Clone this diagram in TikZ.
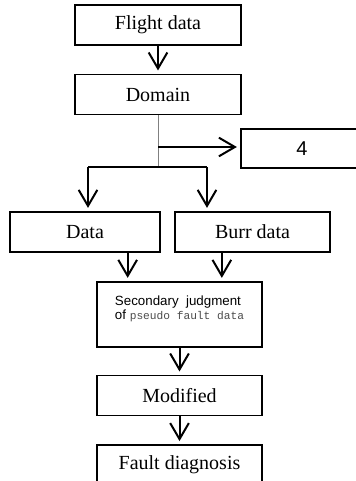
\documentclass[tikz,border=0pt]{standalone}
\usepackage{fontspec}
\setmainfont{Liberation Serif}
\setsansfont{Liberation Sans}
\setmonofont{Liberation Mono}
\usetikzlibrary{arrows.meta,positioning}

\begin{document}
\begin{tikzpicture}[
  x=0.75pt, y=-0.75pt,
  font=\fontsize{15}{18}\selectfont,
  box/.style={draw, line width=1.2pt, align=center, fill=white,
              minimum width=124.5pt, minimum height=30pt, inner sep=2pt},
  lab/.style={font=\sffamily\fontsize{10}{10.5}\selectfont, align=left, inner sep=0pt},
  arr/.style={-{Straight Barb[length=12pt,width=14pt]}, line width=1.5pt, shorten >=2.5pt},
  stem/.style={gray, line width=0.7pt}
]
\useasboundingbox (0,0) rectangle (356,481);
\clip (0,0) rectangle (356,481);

% ---------- top chain ----------
\node[box] (fd) at (158,25) {Flight data};
\node[box, below=21pt of fd] (dom) {Domain};
\node[box, font=\sffamily\fontsize{15}{18}\selectfont,
      minimum width=91.5pt, minimum height=29.25pt] (four) at (302,148.5) {4};

\draw[arr] (fd) -- (dom);

% ---------- split ----------
\coordinate (fork) at (158,147);
\coordinate (split) at (158,167);
\coordinate (lbr) at (88,167);
\coordinate (rbr) at (207,167);

\draw[stem] (dom.south) -- (split);
\draw[arr] (fork) -- (fork -| four.west);
\draw[line width=1.5pt] (lbr) -- (rbr);

\node[box, minimum width=112.5pt] (data) at (85,232) {Data};
\node[box, minimum width=116.25pt] (burr) at (252.5,232) {Burr data};

\draw[arr] (lbr) -- (lbr |- data.north);
\draw[arr] (rbr) -- (rbr |- burr.north);

% ---------- lower chain ----------
\node[box, minimum width=123.75pt, minimum height=48.75pt] (sec) at (179.5,314.5) {};
\node[lab] (sectxt) at ([yshift=4.5pt]sec.center)
  {Secondary\ \ judgment\\
   of {\ttfamily\color{black!70}\fontsize{8.4}{10.5}\selectfont pseudo fault data}};
\node[box, minimum width=123.75pt, below=20.25pt of sec] (mod) {Modified};
\node[box, minimum width=123.75pt, below=21pt of mod] (fault) {Fault diagnosis};

\draw[arr] ([xshift=32pt]data.south) -- ([xshift=32pt]data.south |- sec.north);
\draw[arr] ([xshift=-23pt]burr.south) -- ([xshift=-23pt]burr.south |- sec.north);
\draw[arr] (sec) -- (mod);
\draw[arr] (mod) -- (fault);

\end{tikzpicture}
\end{document}
